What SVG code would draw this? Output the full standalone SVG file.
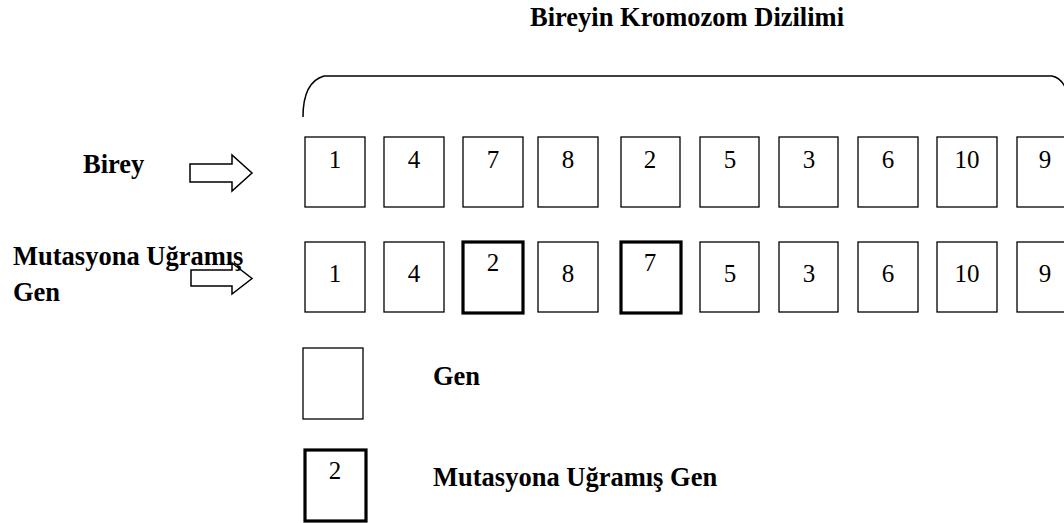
<svg xmlns="http://www.w3.org/2000/svg" width="1064" height="523" viewBox="0 0 1064 523">
<style>
text{font-family:'Liberation Serif','Times New Roman',serif;fill:#000}
.b{font-weight:bold;font-size:26.5px}
.d{font-size:25px;text-anchor:middle}
.g{fill:#fff;stroke:#000;stroke-width:1.3}
.m{fill:#fff;stroke:#000;stroke-width:3.2}
.ar{fill:none;stroke:#000;stroke-width:1.5;stroke-linejoin:miter}
</style>
<rect width="1064" height="523" fill="#fff"/>
<g id="title"><text class="b" x="530" y="26">Bireyin Kromozom Dizilimi</text></g>
<path id="brace" d="M303,117 C303,95 310,80 324,76 L1052,76 C1062,78 1070,90 1072,117" fill="none" stroke="#000" stroke-width="1.5"/>
<g id="label-birey"><text class="b" x="83" y="173">Birey</text></g>
<g id="label-mut"><text class="b" x="13" y="265">Mutasyona Uğramış</text><text class="b" x="13" y="301">Gen</text></g>
<g id="connectors">
<polygon class="ar" points="190,164 232,164 232,155 252,173 232,191 232,182 190,182"/>
<polygon class="ar" points="191,270 232,270 232,263 252,278.5 232,294 232,286 191,286"/>
</g>
<g id="row1">
<g id="r1n1"><rect class="g" x="305" y="137" width="60" height="70"/><text class="d" x="335" y="168">1</text></g>
<g id="r1n2"><rect class="g" x="384" y="137" width="60" height="70"/><text class="d" x="414" y="168">4</text></g>
<g id="r1n3"><rect class="g" x="463" y="137" width="60" height="70"/><text class="d" x="493" y="168">7</text></g>
<g id="r1n4"><rect class="g" x="538" y="137" width="60" height="70"/><text class="d" x="568" y="168">8</text></g>
<g id="r1n5"><rect class="g" x="621" y="137" width="59" height="70"/><text class="d" x="650" y="168">2</text></g>
<g id="r1n6"><rect class="g" x="700" y="137" width="59" height="70"/><text class="d" x="730" y="168">5</text></g>
<g id="r1n7"><rect class="g" x="779" y="137" width="59" height="70"/><text class="d" x="809" y="168">3</text></g>
<g id="r1n8"><rect class="g" x="858" y="137" width="60" height="70"/><text class="d" x="888" y="168">6</text></g>
<g id="r1n9"><rect class="g" x="937" y="137" width="60" height="70"/><text class="d" x="967" y="168">10</text></g>
<g id="r1n10"><rect class="g" x="1017" y="137" width="60" height="70"/><text class="d" x="1045" y="168">9</text></g>
</g>
<g id="row2">
<g id="r2n1"><rect class="g" x="305" y="242" width="60" height="70"/><text class="d" x="335" y="282">1</text></g>
<g id="r2n2"><rect class="g" x="384" y="242" width="60" height="70"/><text class="d" x="414" y="282">4</text></g>
<g id="r2n3"><rect class="m" x="463" y="242" width="60" height="71"/><text class="d" x="493" y="271">2</text></g>
<g id="r2n4"><rect class="g" x="538" y="242" width="60" height="70"/><text class="d" x="568" y="282">8</text></g>
<g id="r2n5"><rect class="m" x="621" y="242" width="60" height="71"/><text class="d" x="650" y="271">7</text></g>
<g id="r2n6"><rect class="g" x="700" y="242" width="59" height="70"/><text class="d" x="730" y="282">5</text></g>
<g id="r2n7"><rect class="g" x="779" y="242" width="59" height="70"/><text class="d" x="809" y="282">3</text></g>
<g id="r2n8"><rect class="g" x="858" y="242" width="60" height="70"/><text class="d" x="888" y="282">6</text></g>
<g id="r2n9"><rect class="g" x="937" y="242" width="60" height="70"/><text class="d" x="967" y="282">10</text></g>
<g id="r2n10"><rect class="g" x="1017" y="242" width="60" height="70"/><text class="d" x="1045" y="282">9</text></g>
</g>
<g id="legend-gen"><rect class="g" x="303" y="348" width="60" height="71"/><text class="b" x="433" y="385">Gen</text></g>
<g id="legend-mut"><rect class="m" x="305" y="450" width="61" height="71"/><text class="d" x="335" y="479">2</text><text class="b" x="433" y="486">Mutasyona Uğramış Gen</text></g>
</svg>
